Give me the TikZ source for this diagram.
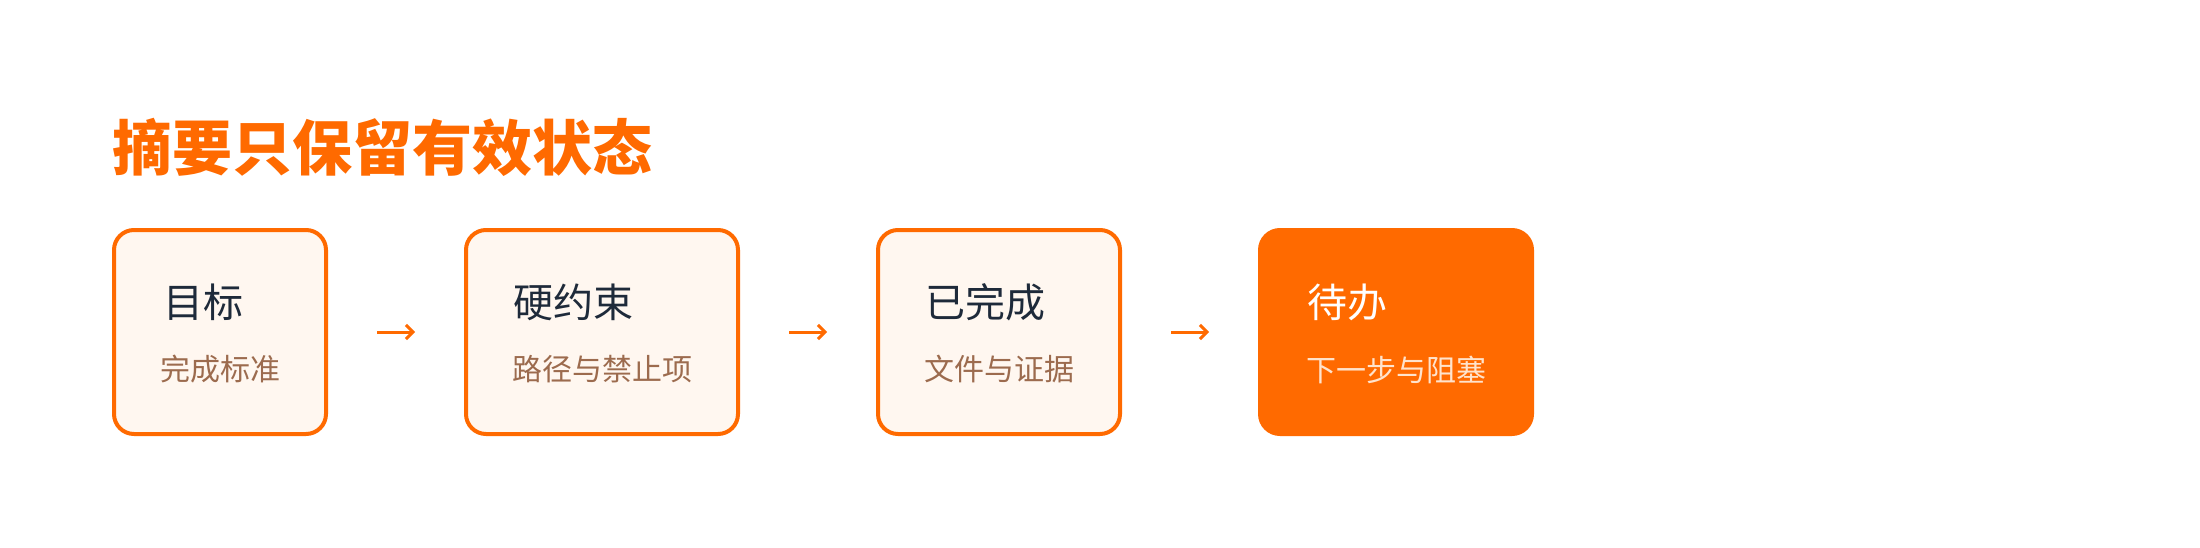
\documentclass[tikz,border=0pt]{standalone}
\usepackage{fontspec}
\newfontfamily\cjk{Noto Sans CJK SC}
\newfontfamily\cjkheavy{Noto Sans CJK SC Black}
\usetikzlibrary{arrows.meta}
\definecolor{brand}{HTML}{FF6A00}
\definecolor{paper}{HTML}{FFF7F0}
\definecolor{ink}{HTML}{1E2A3A}
\definecolor{subink}{HTML}{9C6B4E}
\definecolor{subwhite}{HTML}{FFE3CC}
\tikzset{
  card/.style={draw=brand, fill=paper, line width=4pt, rounded corners=20pt,
    minimum width=#1, minimum height=204pt, inner sep=0pt, outer sep=0pt, anchor=north west},
  hotcard/.style={card=#1, fill=brand},
  cardtitle/.style={font=\cjk\fontsize{40pt}{40pt}\selectfont, text=ink, inner sep=0pt, anchor=west},
  cardsub/.style={font=\cjk\fontsize{30pt}{30pt}\selectfont, text=subink, inner sep=0pt, anchor=west},
  headline/.style={font=\cjkheavy\fontsize{60pt}{60pt}\selectfont, text=brand, inner sep=0pt, anchor=west},
  flow/.style={draw=brand, line width=3pt, shorten <=51pt, shorten >=51pt,
    -{Straight Barb[length=7pt,width=14pt,line width=3pt]}}
}
\begin{document}
\begin{tikzpicture}[x=1pt,y=-1pt]
\useasboundingbox (0,0) rectangle (2200,548);
\fill[white] (0,0) rectangle (2200,548);
\node[headline] (head) at (112,147) {摘要只保留有效状态};

\node[card=212pt] (b1) at (114,230) {};
\node[card=272pt] (b2) at (466,230) {};
\node[card=242pt] (b3) at (878,230) {};
\node[hotcard=272pt] (b4) at (1260,230) {};

\node[cardtitle] (t1) at (163,302.5) {目标};
\node[cardsub]   (s1) at (160,369.5) {完成标准};
\node[cardtitle] (t2) at (513,302.5) {硬约束};
\node[cardsub]   (s2) at (512,369.5) {路径与禁止项};
\node[cardtitle] (t3) at (925,302.5) {已完成};
\node[cardsub]   (s3) at (924,369.5) {文件与证据};
\node[cardtitle, text=white] (t4) at (1307,302.5) {待办};
\node[cardsub, text=subwhite] (s4) at (1306,369.5) {下一步与阻塞};

\draw[flow] (b1.east) -- (b2.west);
\draw[flow] (b2.east) -- (b3.west);
\draw[flow] (b3.east) -- (b4.west);
\end{tikzpicture}
\end{document}
